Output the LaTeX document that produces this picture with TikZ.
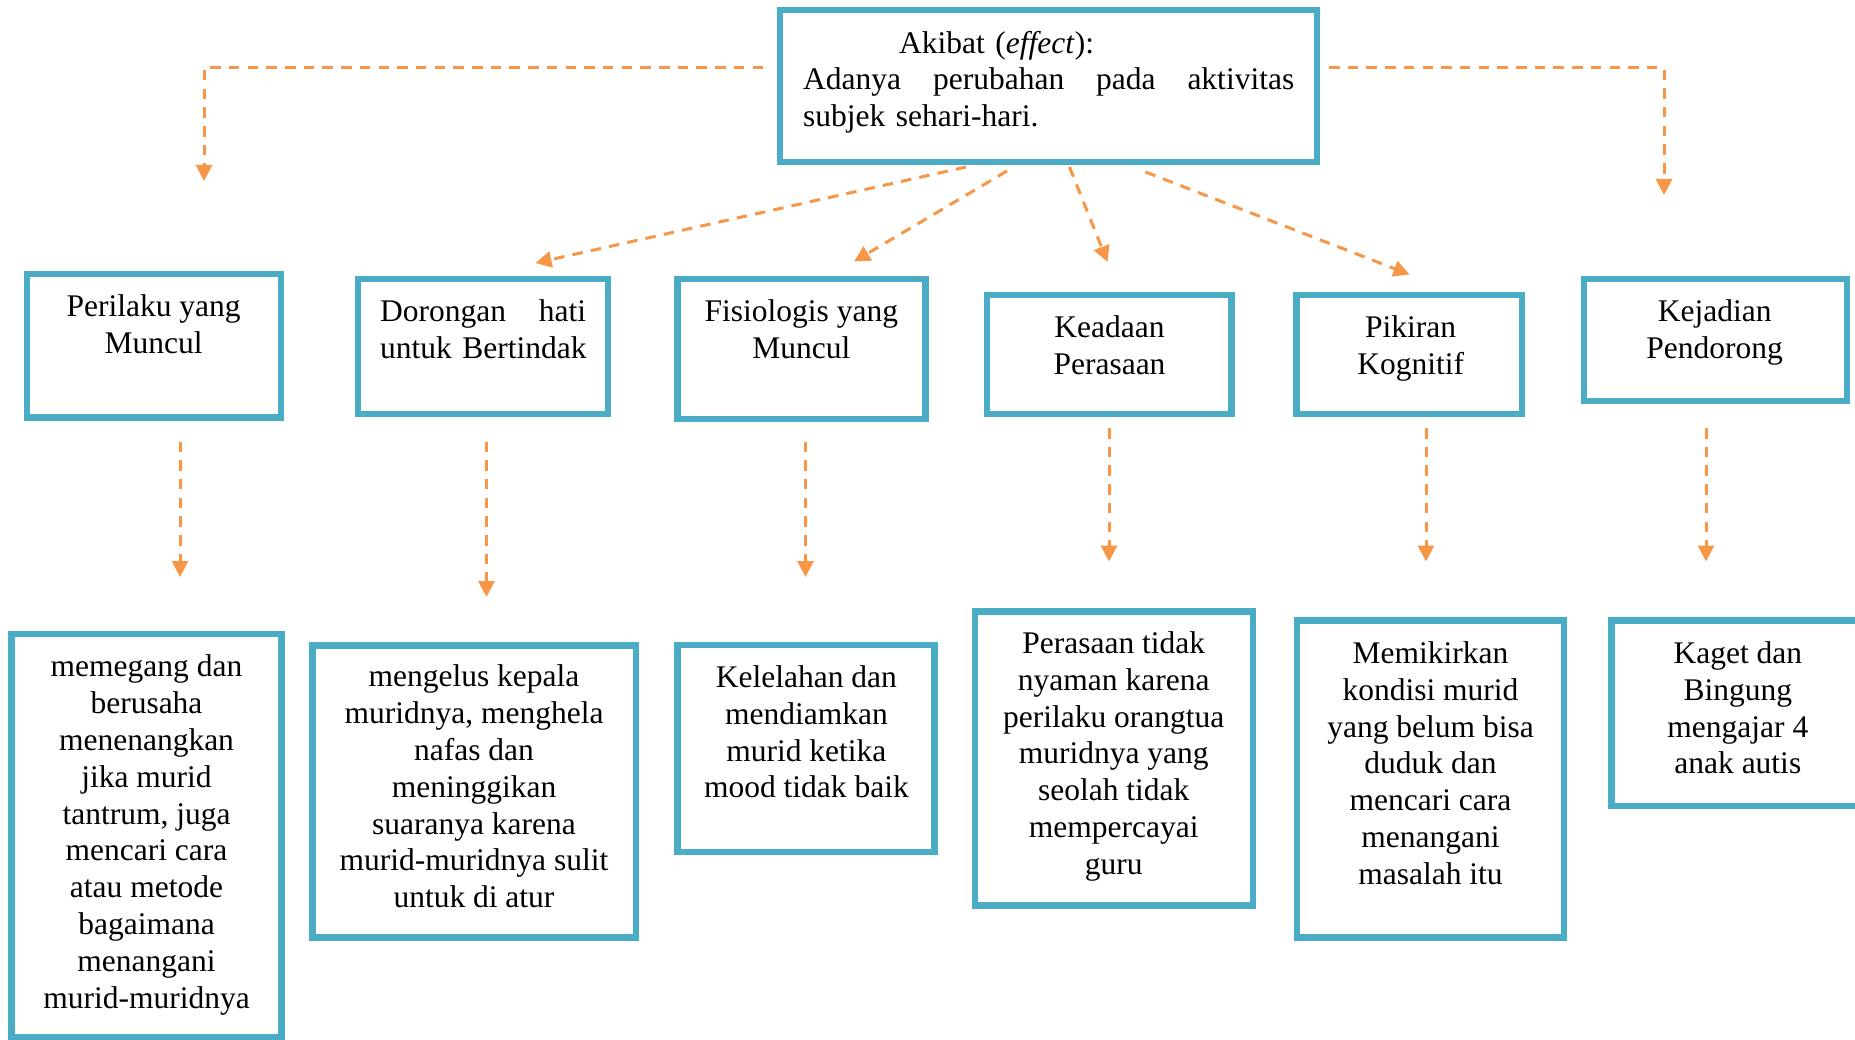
\documentclass[tikz,border=0pt]{standalone}
\usepackage{fontspec}
\setmainfont{Liberation Serif}
\usetikzlibrary{arrows.meta}
\definecolor{boxblue}{HTML}{4BACC6}
\definecolor{arrorange}{HTML}{F79646}
\newcommand{\mystrut}{\rule{0pt}{25pt}}
\begin{document}
\begin{tikzpicture}[x=1pt,y=-1pt,
  frame/.style={draw=boxblue,line width=6.5pt,inner sep=0pt,rectangle},
  txt/.style={inner sep=0pt,align=center,anchor=north,font=\fontsize{31.5}{36.8}\selectfont},
  conn/.style={draw=arrorange,line width=3pt,dash pattern=on 10.5pt off 8.2pt,-{Triangle[length=16pt,width=16pt]}}]
\useasboundingbox (0,0) rectangle (1855,1040);

% boxes
\node[frame,minimum width=537pt,minimum height=152pt] (top) at (1048.5,86) {};
\node[frame,minimum width=254pt,minimum height=143.5pt] (p1) at (154,345.75) {};
\node[frame,minimum width=250pt,minimum height=135pt] (p2) at (483,346.5) {};
\node[frame,minimum width=248pt,minimum height=140pt] (p3) at (801.5,349) {};
\node[frame,minimum width=244.5pt,minimum height=119pt] (p4) at (1109.25,354.5) {};
\node[frame,minimum width=225.5pt,minimum height=119pt] (p5) at (1409.25,354.5) {};
\node[frame,minimum width=263pt,minimum height=122pt] (p6) at (1715.5,340) {};
\node[frame,minimum width=270pt,minimum height=403pt] (b1) at (146.5,835.5) {};
\node[frame,minimum width=323.5pt,minimum height=292pt] (b2) at (474.25,791.5) {};
\node[frame,minimum width=257pt,minimum height=207pt] (b3) at (806,748.5) {};
\node[frame,minimum width=278pt,minimum height=294pt] (b4) at (1114,758.5) {};
\node[frame,minimum width=267pt,minimum height=317pt] (b5) at (1430.5,779) {};
\node[frame,minimum width=252.5pt,minimum height=185.5pt] (b6) at (1737.75,713.25) {};

% texts
\node[txt,anchor=north west,align=left,text width=520pt] (ttop) at (803,28)
  {\mystrut\hspace*{96pt}Akibat (\textit{effect}):\\\leavevmode\hbox to 491pt{Adanya\hfill perubahan\hfill pada\hfill aktivitas}\\subjek sehari-hari.};
\node[txt] (tp1) at (153.6,291.7) {\mystrut Perilaku yang\\Muncul};
\node[txt,anchor=north west,align=left,text width=240pt] (tp2) at (380,296.7)
  {\mystrut\hbox to 206pt{Dorongan\hfill hati}\\untuk Bertindak};
\node[txt] (tp3) at (801.3,296.7) {\mystrut Fisiologis yang\\Muncul};
\node[txt] (tp4) at (1109.5,312.3) {\mystrut Keadaan\\Perasaan};
\node[txt] (tp5) at (1410.7,312.3) {\mystrut Pikiran\\Kognitif};
\node[txt] (tp6) at (1714.7,296.7) {\mystrut Kejadian\\Pendorong};
\node[txt] (tb1) at (146.5,651.7) {\mystrut memegang dan\\berusaha\\menenangkan\\jika murid\\tantrum, juga\\mencari cara\\atau metode\\bagaimana\\menangani\\murid-muridnya};
\node[txt] (tb2) at (474,661.7) {\mystrut mengelus kepala\\muridnya, menghela\\nafas dan\\meninggikan\\suaranya karena\\murid-muridnya sulit\\untuk di atur};
\node[txt] (tb3) at (806.4,662.3) {\mystrut Kelelahan dan\\mendiamkan\\murid ketika\\mood tidak baik};
\node[txt] (tb4) at (1113.7,628.3) {\mystrut Perasaan tidak\\nyaman karena\\perilaku orangtua\\muridnya yang\\seolah tidak\\mempercayai\\guru};
\node[txt] (tb5) at (1430.5,638.3) {\mystrut Memikirkan\\kondisi murid\\yang belum bisa\\duduk dan\\mencari cara\\menangani\\masalah itu};
\node[txt] (tb6) at (1737.8,638.3) {\mystrut Kaget dan\\Bingung\\mengajar 4\\anak autis};

% connector end points
\coordinate (ls) at (763,68);    \coordinate (le) at (204,181);
\coordinate (rs) at (1329,68);   \coordinate (re) at (1664,195);
\coordinate (d1s) at (966,167);  \coordinate (d1e) at (535.5,263);
\coordinate (d2s) at (1007,171); \coordinate (d2e) at (854,261.5);
\coordinate (d3s) at (1069.5,167); \coordinate (d3e) at (1107.5,262);
\coordinate (d4s) at (1145.5,172); \coordinate (d4e) at (1409.5,274.5);
\coordinate (v1s) at (180,441.5);  \coordinate (v1e) at (180,577);
\coordinate (v2s) at (486.5,441.5); \coordinate (v2e) at (486.5,597);
\coordinate (v3s) at (805.5,441.5); \coordinate (v3e) at (805.5,577);
\coordinate (v4s) at (1109,428);   \coordinate (v4e) at (1109,561.5);
\coordinate (v5s) at (1426,428);   \coordinate (v5e) at (1426,561.5);
\coordinate (v6s) at (1706,428);   \coordinate (v6e) at (1706,561.5);

% connectors
\draw[conn] (ls) -| (le);
\draw[conn] (rs) -| (re);
\draw[conn] (d1s) -- (d1e);
\draw[conn] (d2s) -- (d2e);
\draw[conn] (d3s) -- (d3e);
\draw[conn] (d4s) -- (d4e);
\draw[conn] (v1s) -- (v1e);
\draw[conn] (v2s) -- (v2e);
\draw[conn] (v3s) -- (v3e);
\draw[conn] (v4s) -- (v4e);
\draw[conn] (v5s) -- (v5e);
\draw[conn] (v6s) -- (v6e);
\end{tikzpicture}
\end{document}
